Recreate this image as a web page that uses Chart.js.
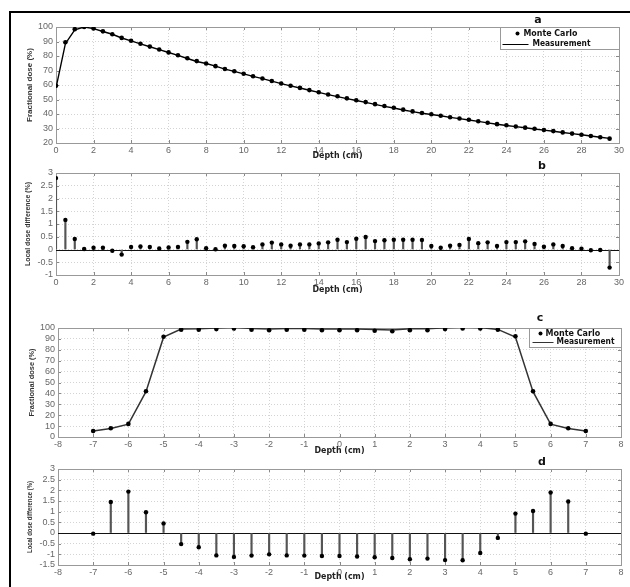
<!DOCTYPE html>
<html>
<head>
<meta charset="utf-8">
<script src="https://cdn.jsdelivr.net/npm/chart.js@4.4.1/dist/chart.umd.min.js"></script>
<style>
  html, body { margin: 0; padding: 0; background: #fff; }
  #page { position: relative; width: 630px; height: 587px; overflow: hidden; }
  #page canvas { position: absolute; left: 0; }
  #frame { position: absolute; left: 9px; top: 11px; width: 640px; height: 600px;
           border-top: 2px solid #000; border-left: 2px solid #000; pointer-events: none; }
</style>
</head>
<body>
<div id="page">
  <canvas id="panel-a" width="630" height="160" style="top:0"></canvas>
  <canvas id="panel-b" width="630" height="138" style="top:160px"></canvas>
  <canvas id="panel-c" width="630" height="157" style="top:298px"></canvas>
  <canvas id="panel-d" width="630" height="132" style="top:455px"></canvas>
  <div id="frame"></div>
</div>
<script>
// ── data ─────────────────────────────────────────────────
const depthA = [0, 0.5, 1, 1.5, 2, 2.5, 3, 3.5, 4, 4.5, 5, 5.5, 6, 6.5, 7, 7.5, 8, 8.5, 9, 9.5,
  10, 10.5, 11, 11.5, 12, 12.5, 13, 13.5, 14, 14.5, 15, 15.5, 16, 16.5, 17, 17.5, 18, 18.5, 19, 19.5,
  20, 20.5, 21, 21.5, 22, 22.5, 23, 23.5, 24, 24.5, 25, 25.5, 26, 26.5, 27, 27.5, 28, 28.5, 29, 29.5];

const monteCarloA = [59.5, 89.5, 98.5, 100, 99, 97, 95, 92.5, 90.5, 88.5, 86.5, 84.5, 82.5, 80.5, 78.5, 76.5,
  74.8, 73, 71, 69.5, 67.8, 66, 64.5, 62.8, 61, 59.5, 58, 56.5, 55, 53.5, 52.2, 50.8, 49.5, 48.2, 46.8, 45.5,
  44.3, 43, 41.8, 40.7, 39.8, 38.8, 37.8, 36.9, 36, 35, 34, 33, 32.2, 31.4, 30.6, 29.8, 29, 28.2, 27.3, 26.5,
  25.7, 24.8, 24, 23];

const measurementA = [58, 88.5, 98.1, 100, 98.9, 96.9, 95, 92.4, 90.4, 88.4, 86.4, 84.4, 82.4, 80.4, 78.3, 76.2,
  74.8, 73, 70.9, 69.4, 67.7, 65.9, 64.4, 62.7, 60.9, 59.4, 57.9, 56.4, 54.9, 53.4, 52, 50.6, 49.3, 48, 46.6, 45.3,
  44.1, 42.8, 41.6, 40.5, 39.7, 38.8, 37.7, 36.8, 35.9, 34.9, 33.9, 32.9, 32.1, 31.3, 30.5, 29.7, 28.9, 28.1, 27.2, 26.5,
  25.7, 24.8, 24, 23.2];

const diffB = [2.8, 1.16, 0.41, 0.02, 0.07, 0.07, -0.05, -0.2, 0.1, 0.12, 0.1, 0.04, 0.08, 0.1, 0.3, 0.4,
  0.05, 0.01, 0.15, 0.14, 0.13, 0.09, 0.2, 0.27, 0.2, 0.15, 0.2, 0.2, 0.24, 0.28, 0.38, 0.29, 0.42, 0.49,
  0.33, 0.36, 0.38, 0.38, 0.38, 0.37, 0.14, 0.07, 0.15, 0.18, 0.41, 0.25, 0.28, 0.14, 0.29, 0.29, 0.32,
  0.22, 0.11, 0.2, 0.14, 0.05, 0.03, -0.03, -0.02, -0.71];

const positionC = [-7, -6.5, -6, -5.5, -5, -4.5, -4, -3.5, -3, -2.5, -2, -1.5, -1, -0.5, 0,
  0.5, 1, 1.5, 2, 2.5, 3, 3.5, 4, 4.5, 5, 5.5, 6, 6.5, 7];

const monteCarloC = [5.5, 8, 12, 42, 92, 98.5, 98.5, 99, 99.5, 98.5, 98, 98.5, 98.5, 98, 98,
  98, 97.5, 97, 98, 98, 99, 99.5, 99.5, 98.5, 92.5, 42, 12, 8, 5.5];

const measurementC = [5.5, 7.9, 11.8, 41.6, 91.6, 99, 99.2, 100, 100.6, 99.5, 99, 99.5, 99.5, 99.1, 99.1,
  99.1, 98.6, 98.2, 99.2, 99.2, 100.3, 100.8, 100.4, 98.7, 91.7, 41.6, 11.8, 7.9, 5.5];

const diffD = [-0.03, 1.45, 1.94, 0.97, 0.45, -0.52, -0.67, -1.05, -1.12, -1.06, -1.0, -1.05, -1.06, -1.08, -1.08,
  -1.1, -1.14, -1.17, -1.23, -1.2, -1.27, -1.28, -0.94, -0.23, 0.91, 1.03, 1.9, 1.48, -0.03];

const ticksDepthA = [0, 2, 4, 6, 8, 10, 12, 14, 16, 18, 20, 22, 24, 26, 28, 30];
const ticksDoseA = [20, 30, 40, 50, 60, 70, 80, 90, 100];
const ticksDiffB = [-1, -0.5, 0, 0.5, 1, 1.5, 2, 2.5, 3];
const ticksPosC = [-8, -7, -6, -5, -4, -3, -2, -1, 0, 1, 2, 3, 4, 5, 6, 7, 8];
const ticksDoseC = [0, 10, 20, 30, 40, 50, 60, 70, 80, 90, 100];
const ticksDiffD = [-1.5, -1, -0.5, 0, 0.5, 1, 1.5, 2, 2.5, 3];

const pts = (xs, ys) => xs.map((x, i) => ({ x, y: ys[i] }));

Chart.defaults.font.family = '"Liberation Sans", Arial, sans-serif';
Chart.defaults.font.size = 9;
Chart.defaults.color = '#666';

// frame, inner ticks, zero line, labels and legend drawn on top of the chart area
const decor = {
  id: 'decor',
  beforeDatasetsDraw(chart, args, o) {
    const { ctx, chartArea: a, scales } = chart;
    ctx.save();
    // inward tick marks
    ctx.strokeStyle = '#888';
    ctx.lineWidth = 1;
    ctx.beginPath();
    scales.x.ticks.forEach(t => {
      const x = Math.round(scales.x.getPixelForValue(t.value)) + 0.5;
      ctx.moveTo(x, a.bottom); ctx.lineTo(x, a.bottom - 3);
      ctx.moveTo(x, a.top); ctx.lineTo(x, a.top + 3);
    });
    scales.y.ticks.forEach(t => {
      const y = Math.round(scales.y.getPixelForValue(t.value)) + 0.5;
      ctx.moveTo(a.left, y); ctx.lineTo(a.left + 3, y);
      ctx.moveTo(a.right, y); ctx.lineTo(a.right - 3, y);
    });
    ctx.stroke();
    ctx.strokeStyle = '#999';
    ctx.strokeRect(Math.round(a.left) + 0.5, Math.round(a.top) + 0.5,
      Math.round(a.right - a.left), Math.round(a.bottom - a.top));
    if (o.zeroLine) {
      const y = Math.round(scales.y.getPixelForValue(0)) + 0.5;
      ctx.strokeStyle = '#111';
      ctx.beginPath(); ctx.moveTo(a.left, y); ctx.lineTo(a.right, y); ctx.stroke();
    }
    ctx.restore();
  },
  afterDraw(chart, args, o) {
    const { ctx, chartArea: a } = chart;
    const cx = (a.left + a.right) / 2;
    const cy = (a.top + a.bottom) / 2;
    ctx.save();
    ctx.fillStyle = '#111';
    ctx.textBaseline = 'middle';
    ctx.textAlign = 'center';
    ctx.font = 'bold 11px "DejaVu Sans", sans-serif';
    ctx.fillText(o.letter[0], o.letter[1], o.letter[2]);
    ctx.fillStyle = '#222';
    ctx.font = 'bold 8px "DejaVu Sans", sans-serif';
    ctx.fillText('Depth (cm)', cx, o.depthY, 50);
    ctx.save();
    ctx.translate(o.yLabel[1], cy);
    ctx.rotate(-Math.PI / 2);
    ctx.fillStyle = '#333';
    ctx.font = 'bold 8px "Liberation Sans", Arial, sans-serif';
    ctx.fillText(o.yLabel[0], 0, 0, o.yLabel[2]);
    ctx.restore();

    if (o.legend) {
      const L = o.legend;
      const bx = Math.round(a.right - L.w) + 0.5;
      const by = Math.round(a.top) + 0.5;
      ctx.fillStyle = '#fff';
      ctx.fillRect(bx, by, L.w, L.h);
      ctx.strokeStyle = '#999';
      ctx.lineWidth = 1;
      ctx.strokeRect(bx, by, L.w, L.h);
      ctx.textAlign = 'left';
      ctx.font = 'bold 8px "DejaVu Sans", sans-serif';
      const ds = chart.data.datasets;
      // marker entry
      ctx.fillStyle = '#000';
      ctx.beginPath();
      ctx.arc(bx + L.dot, by + L.row1, 2, 0, Math.PI * 2);
      ctx.fill();
      ctx.fillStyle = '#111';
      ctx.fillText(ds[0].label, bx + L.text1, by + L.row1, L.max1);
      // line entry
      ctx.strokeStyle = ds[1].borderColor;
      ctx.lineWidth = 1;
      ctx.beginPath();
      ctx.moveTo(bx + L.line[0], Math.round(by + L.row2) + 0.5);
      ctx.lineTo(bx + L.line[1], Math.round(by + L.row2) + 0.5);
      ctx.stroke();
      ctx.fillText(ds[1].label, bx + L.text2, by + L.row2, L.max2);
    }
    ctx.restore();
  },
};

function axis(ticks, dir, size) {
  return {
    type: 'linear',
    min: ticks[0],
    max: ticks[ticks.length - 1],
    offset: false,
    afterBuildTicks: s => { s.ticks = ticks.map(v => ({ value: v })); },
    afterFit: s => { if (dir === 'x') s.height = size; else s.width = size; },
    grid: { color: '#d4d4d4', lineWidth: 1, drawTicks: false, offset: false },
    border: { display: false, dash: [1, 2] },
    ticks: {
      color: '#666', padding: dir === 'x' ? 2 : 3, autoSkip: false, maxRotation: 0,
      callback: v => String(v),
    },
  };
}

function panel(id, cfg) {
  return new Chart(document.getElementById(id), {
    type: cfg.type,
    data: { datasets: cfg.datasets },
    options: {
      responsive: false,
      animation: false,
      layout: { padding: { top: cfg.top, right: cfg.right, left: 0, bottom: 0 } },
      scales: {
        x: axis(cfg.xTicks, 'x', cfg.xHeight),
        y: axis(cfg.yTicks, 'y', cfg.yWidth),
      },
      plugins: { legend: { display: false }, tooltip: { enabled: false }, decor: cfg.decor },
    },
    plugins: [decor],
  });
}

// ── a: depth dose ────────────────────────────────────────
panel('panel-a', {
  type: 'scatter',
  top: 27, right: 11, xHeight: 17, yWidth: 56,
  xTicks: ticksDepthA, yTicks: ticksDoseA,
  datasets: [
    { label: 'Monte Carlo', data: pts(depthA, monteCarloA), pointRadius: 2.3,
      pointBackgroundColor: '#000', pointBorderWidth: 0, showLine: false },
    { label: 'Measurement', data: pts(depthA, measurementA), pointRadius: 0,
      borderColor: '#000', borderWidth: 1.4, showLine: true },
  ],
  decor: {
    letter: ['a', 538, 20], depthY: 156, yLabel: ['Fractional dose (%)', 30, 74],
    legend: { w: 119, h: 22, row1: 6, row2: 16, dot: 17, text1: 23, max1: 54,
              line: [2, 28], text2: 32, max2: 58 },
  },
});

// ── b: local dose difference along depth ────────────────
panel('panel-b', {
  type: 'bar',
  top: 13, right: 11, xHeight: 23, yWidth: 56,
  xTicks: ticksDepthA, yTicks: ticksDiffB,
  datasets: [
    { type: 'line', label: 'Monte Carlo', data: pts(depthA, diffB), showLine: false,
      pointRadius: 2.2, pointBackgroundColor: '#000', pointBorderWidth: 0 },
    { type: 'bar', label: 'stem', data: pts(depthA, diffB), barThickness: 1.5,
      backgroundColor: '#555' },
  ],
  decor: { letter: ['b', 542, 6], depthY: 130, yLabel: ['Local dose difference (%)', 28, 84], zeroLine: true },
});

// ── c: lateral profile ───────────────────────────────────
panel('panel-c', {
  type: 'scatter',
  top: 30, right: 9, xHeight: 18, yWidth: 58,
  xTicks: ticksPosC, yTicks: ticksDoseC,
  datasets: [
    { label: 'Monte Carlo', data: pts(positionC, monteCarloC), pointRadius: 2.3,
      pointBackgroundColor: '#000', pointBorderWidth: 0, showLine: false },
    { label: 'Measurement', data: pts(positionC, measurementC), pointRadius: 0,
      borderColor: '#333', borderWidth: 1.5, showLine: true },
  ],
  decor: {
    letter: ['c', 540, 20], depthY: 153, yLabel: ['Fractional dose (%)', 32, 68],
    legend: { w: 92, h: 19, row1: 5, row2: 13.5, dot: 11, text1: 16, max1: 58,
              line: [3, 24], text2: 27, max2: 58 },
  },
});

// ── d: local dose difference across profile ─────────────
panel('panel-d', {
  type: 'bar',
  top: 14, right: 9, xHeight: 22, yWidth: 58,
  xTicks: ticksPosC, yTicks: ticksDiffD,
  datasets: [
    { type: 'line', label: 'Monte Carlo', data: pts(positionC, diffD), showLine: false,
      pointRadius: 2.2, pointBackgroundColor: '#000', pointBorderWidth: 0 },
    { type: 'bar', label: 'stem', data: pts(positionC, diffD), barThickness: 1.5,
      backgroundColor: '#555' },
  ],
  decor: { letter: ['d', 542, 7], depthY: 122, yLabel: ['Local dose difference (%)', 30, 72], zeroLine: true },
});
</script>
</body>
</html>
